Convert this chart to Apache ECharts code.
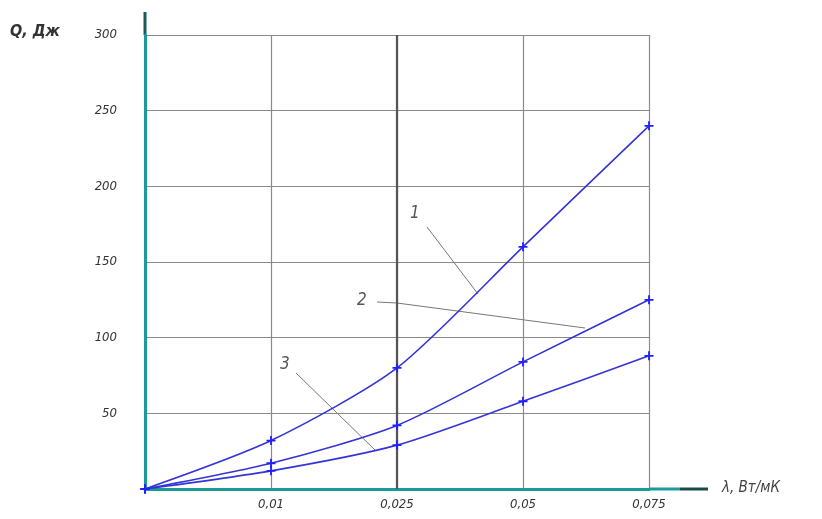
<!DOCTYPE html>
<html><head><meta charset="utf-8">
<script src="https://cdn.jsdelivr.net/npm/echarts@6/dist/echarts.min.js"></script>
<style>html,body{margin:0;padding:0;background:#fff}#c{width:822px;height:519px}</style>
</head><body><div id="c"></div>
<script>
var categories = ['0', '0,01', '0,025', '0,05', '0,075'];
var series1 = [0, 32, 80, 160, 240];
var series2 = [0, 17, 42, 84, 125];
var series3 = [0, 12, 29, 58, 88];
var yTicks = [0, 50, 100, 150, 200, 250, 300];

var chart = echarts.init(document.getElementById('c'));
var font = '"Liberation Sans Narrow", "DejaVu Sans Condensed", sans-serif';
var plus = 'path://M3.2,0H4.8V3.2H8V4.8H4.8V8H3.2V4.8H0V3.2H3.2Z';
var lineColor = '#3434d8';
function mk(name, data) {
  return {
    name: name, type: 'line', data: data, smooth: 0.25,
    symbol: plus, symbolSize: 9, showSymbol: true,
    lineStyle: { color: lineColor, width: 1.6 },
    itemStyle: { color: '#2020ff' },
    z: 5
  };
}
var s1 = mk('1', series1);
s1.markLine = {
  silent: true, symbol: 'none', label: { show: false },
  lineStyle: { color: '#555', width: 2.2, type: 'solid' },
  data: [{ xAxis: 2 }]
};
chart.setOption({
  animation: false,
  grid: { left: 145, right: 173, top: 35, bottom: 30 },
  xAxis: {
    type: 'category', data: categories, boundaryGap: false,
    axisLine: { lineStyle: { color: '#1b9a9a', width: 3 } },
    axisTick: { show: false },
    axisLabel: { showMinLabel: false, fontFamily: font, fontStyle: 'italic', fontSize: 13, color: '#333', margin: 9 },
    splitLine: { show: true, lineStyle: { color: '#8a8a8a', width: 1.2 } }
  },
  yAxis: {
    type: 'value', min: yTicks[0], max: yTicks[yTicks.length - 1], interval: 50,
    axisLine: { show: true, lineStyle: { color: '#1b9a9a', width: 3 } },
    axisTick: { show: false },
    axisLabel: { showMinLabel: false, fontFamily: font, fontStyle: 'italic', fontSize: 13, color: '#333', margin: 28 },
    splitLine: { show: true, lineStyle: { color: '#8a8a8a', width: 1.2 } }
  },
  series: [s1, mk('2', series2), mk('3', series3)],
  graphic: [
    { type: 'line', shape: { x1: 145, y1: 35, x2: 145, y2: 12 }, style: { stroke: '#1b5a5a', lineWidth: 3 } },
    { type: 'line', shape: { x1: 649, y1: 489, x2: 680, y2: 489 }, style: { stroke: '#1b9a9a', lineWidth: 3 } },
    { type: 'line', shape: { x1: 680, y1: 489, x2: 708, y2: 489 }, style: { stroke: '#1b4a4a', lineWidth: 3 } },
    { type: 'text', left: 10, top: 24, style: { text: 'Q, Дж', font: 'italic bold 16px ' + font, fill: '#333' } },
    { type: 'text', left: 722, top: 481, style: { text: 'λ, Вт/мК', font: 'italic 15px ' + font, fill: '#444' } },
    { type: 'text', left: 410, top: 205, style: { text: '1', font: 'italic 17px ' + font, fill: '#555' } },
    { type: 'line', shape: { x1: 427, y1: 227, x2: 478, y2: 294 }, style: { stroke: '#777', lineWidth: 1 } },
    { type: 'text', left: 357, top: 292, style: { text: '2', font: 'italic 17px ' + font, fill: '#555' } },
    { type: 'polyline', shape: { points: [[377, 302], [397, 303], [585, 328]] }, style: { stroke: '#777', lineWidth: 1, fill: null } },
    { type: 'text', left: 280, top: 356, style: { text: '3', font: 'italic 17px ' + font, fill: '#555' } },
    { type: 'line', shape: { x1: 296, y1: 373, x2: 375, y2: 450 }, style: { stroke: '#777', lineWidth: 1 } }
  ]
});
</script></body></html>
